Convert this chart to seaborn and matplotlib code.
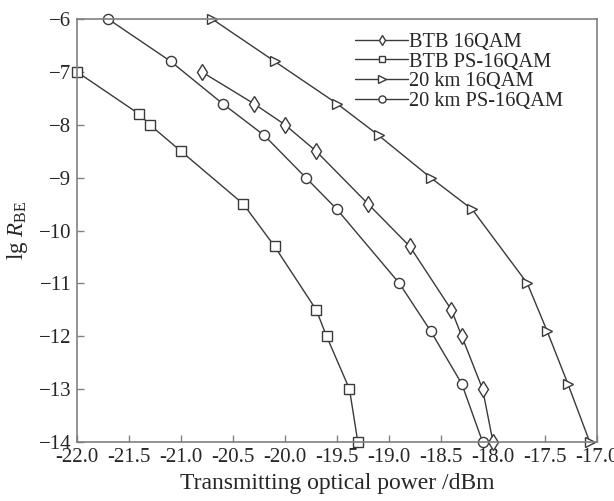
import matplotlib
matplotlib.use("Agg")
import matplotlib.pyplot as plt
import seaborn as sns
import pandas as pd
from matplotlib.ticker import FormatStrFormatter

# ---- data ----
btb_16qam_x = [-20.8, -20.3, -20.0, -19.7, -19.2, -18.8, -18.4, -18.3, -18.1, -18.0]
btb_16qam_y = [-7.0, -7.6, -8.0, -8.5, -9.5, -10.3, -11.5, -12.0, -13.0, -14.0]

btb_ps_x = [-22.0, -21.4, -21.3, -21.0, -20.4, -20.1, -19.7, -19.6, -19.38, -19.3]
btb_ps_y = [-7.0, -7.8, -8.0, -8.5, -9.5, -10.3, -11.5, -12.0, -13.0, -14.0]

km20_16qam_x = [-20.7, -20.1, -19.5, -19.1, -18.6, -18.2, -17.67, -17.48, -17.28, -17.07]
km20_16qam_y = [-6.0, -6.8, -7.6, -8.2, -9.0, -9.6, -11.0, -11.9, -12.9, -14.0]

km20_ps_x = [-21.7, -21.1, -20.6, -20.2, -19.8, -19.5, -18.9, -18.6, -18.3, -18.1]
km20_ps_y = [-6.0, -6.8, -7.6, -8.2, -9.0, -9.6, -11.0, -11.9, -12.9, -14.0]

series_names = ["BTB 16QAM", "BTB PS-16QAM", "20 km 16QAM", "20 km PS-16QAM"]
series_x = [btb_16qam_x, btb_ps_x, km20_16qam_x, km20_ps_x]
series_y = [btb_16qam_y, btb_ps_y, km20_16qam_y, km20_ps_y]
series_markers = ["d", "s", ">", "o"]

x_ticks = [-22.0, -21.5, -21.0, -20.5, -20.0, -19.5, -19.0, -18.5, -18.0, -17.5, -17.0]
y_ticks = [-6, -7, -8, -9, -10, -11, -12, -13, -14]

# ---- style ----
sns.set_style("ticks")
plt.rcParams["font.family"] = ["Liberation Serif", "DejaVu Serif"]
plt.rcParams["mathtext.fontset"] = "custom"
plt.rcParams["mathtext.rm"] = "Liberation Serif"
plt.rcParams["mathtext.it"] = "Liberation Serif:italic"

line_color = "#3a3a3a"
spine_color = "#808080"

fig = plt.figure(figsize=(6.14, 5.01), dpi=100)
ax = fig.add_axes([0.1254, 0.1178, 0.8469, 0.8442])

marker_sizes = {"d": 8.0, "s": 6.5, ">": 7.5, "o": 7.3}
for name, xs, ys, m in zip(series_names, series_x, series_y, series_markers):
    df = pd.DataFrame({"x": xs, "y": ys})
    sns.lineplot(data=df, x="x", y="y", ax=ax, sort=False, estimator=None,
                 color=line_color, linewidth=1.0, label=name)
    ln = ax.lines[-1]
    ln.set_marker(m)
    ln.set_markersize(marker_sizes[m])
    ln.set_markerfacecolor("white")
    ln.set_markeredgecolor(line_color)
    ln.set_markeredgewidth(1.0)
    ln.set_clip_on(False)

ax.set_xlim(-22.0, -17.0)
ax.set_ylim(-14, -6)
ax.set_xticks(x_ticks)
ax.set_yticks(y_ticks)
ax.xaxis.set_major_formatter(FormatStrFormatter("%.1f"))

ax.tick_params(direction="in", length=5, width=1.0, color=spine_color,
               labelsize=15, pad=4)
for sp in ax.spines.values():
    sp.set_color(spine_color)
    sp.set_linewidth(1.2)

ax.set_xlabel("Transmitting optical power /dBm", fontsize=17, labelpad=5)
ax.set_ylabel(r"lg $R_{\mathrm{BE}}$", fontsize=16.5, labelpad=6)

leg = ax.legend(loc="upper left", bbox_to_anchor=(0.535, 0.968), frameon=False,
                fontsize=14.7, handlelength=2.6, handletextpad=0.05,
                labelspacing=0.02, borderpad=0, borderaxespad=0,
                markerscale=0.7)

fig.savefig("out.png", dpi=100)
